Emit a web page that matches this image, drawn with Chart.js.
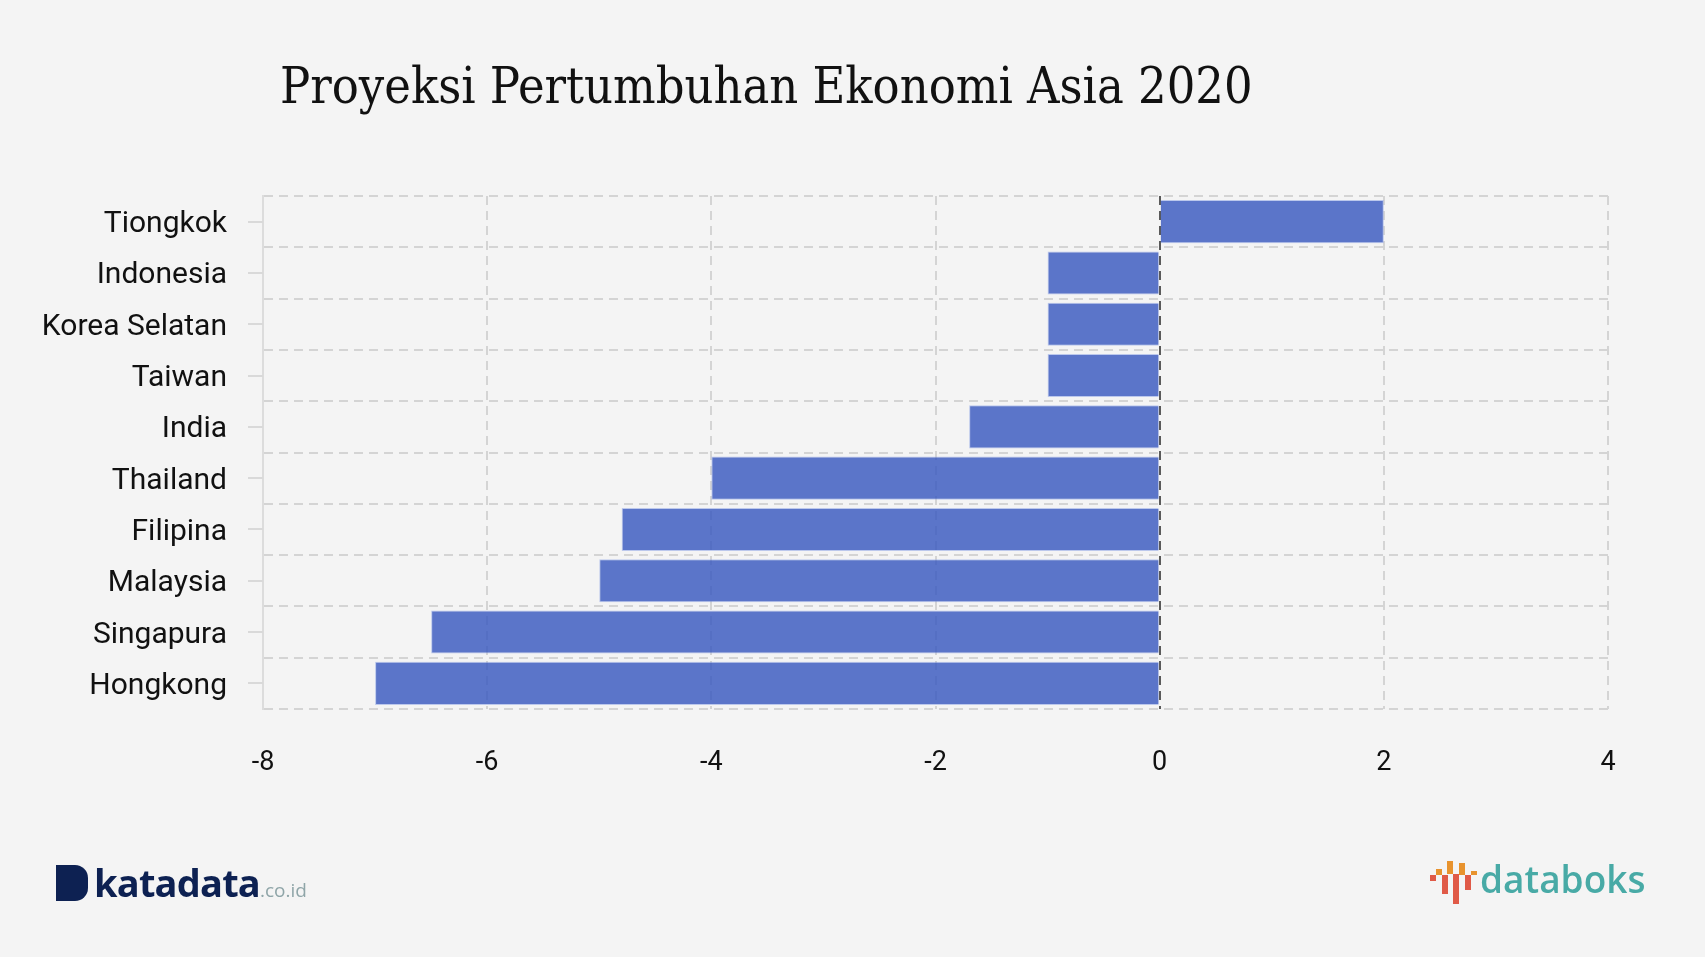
<!DOCTYPE html>
<html lang="id">
<head>
    <meta charset="UTF-8">
    <title>Proyeksi Pertumbuhan Ekonomi Asia 2020</title>
    <script src="https://cdn.jsdelivr.net/npm/chart.js"></script>
    <style>
        html, body {
            margin: 0;
            padding: 0;
            background: #f4f4f4;
        }
        #wrap {
            position: relative;
            width: 1705px;
            height: 957px;
            overflow: hidden;
        }
        #title {
            position: absolute;
            left: 280px;
            top: 56px;
            margin: 0;
            font-family: "DejaVu Serif Condensed", "DejaVu Serif", serif;
            font-weight: normal;
            font-size: 50px;
            line-height: 60px;
            color: #111;
            white-space: nowrap;
        }
        canvas {
            position: absolute;
            left: 0;
            top: 0;
        }
        .logo-kata {
            position: absolute;
            left: 56px;
            top: 864px;
            height: 38px;
            display: flex;
            align-items: flex-end;
            font-family: "Open Sans", "DejaVu Sans", sans-serif;
            font-weight: bold;
            color: #0d2152;
        }
        .logo-kata .d {
            display: inline-block;
            width: 32px;
            height: 36px;
            background: #0d2152;
            border-radius: 0 13px 13px 0;
            margin-right: 6px;
            margin-bottom: 1px;
        }
        .logo-kata .word { font-size: 38px; line-height: 40px; letter-spacing: -0.8px; }
        .logo-kata .dom { font-size: 19px; line-height: 24px; color: #8fa5a8; font-weight: normal; }
        .logo-boks {
            position: absolute;
            left: 1430px;
            top: 861px;
            height: 44px;
            font-family: "Open Sans", "DejaVu Sans", sans-serif;
            color: #48aaa6;
        }
        .logo-boks .bars {
            position: absolute;
            left: 0;
            top: 0;
            width: 47px;
            height: 44px;
        }
        .logo-boks .bars i {
            position: absolute;
            width: 6px;
        }
        .logo-boks .word {
            position: absolute;
            left: 50px;
            top: -4px;
            font-size: 37px;
            line-height: 44px;
            font-weight: 600;
            white-space: nowrap;
        }
    </style>
</head>
<body>
<div id="wrap">
    <h1 id="title">Proyeksi Pertumbuhan Ekonomi Asia 2020</h1>
    <canvas id="myChart" width="1705" height="957"></canvas>

    <div class="logo-kata"><span class="d"></span><span class="word">katadata</span><span class="dom">.co.id</span></div>
    <div class="logo-boks">
        <div class="bars">
            <i style="left:0;top:14px;height:6px;background:#e05a47"></i>
            <i style="left:6px;top:8px;height:6px;background:#e8932e"></i>
            <i style="left:12px;top:14px;height:19px;background:#e05a47"></i>
            <i style="left:17px;top:0;height:13px;background:#e8932e"></i>
            <i style="left:23px;top:13px;height:30px;background:#e05a47"></i>
            <i style="left:29px;top:2px;height:12px;background:#e8932e"></i>
            <i style="left:35px;top:14px;height:15px;background:#e05a47"></i>
            <i style="left:41px;top:10px;height:4px;background:#e8932e"></i>
        </div>
        <span class="word">databoks</span>
    </div>
</div>

<script>
    // data
    const countries = ['Tiongkok', 'Indonesia', 'Korea Selatan', 'Taiwan', 'India',
                       'Thailand', 'Filipina', 'Malaysia', 'Singapura', 'Hongkong'];
    const growth2020 = [2.0, -1.0, -1.0, -1.0, -1.7, -4.0, -4.8, -5.0, -6.5, -7.0];
    const xMin = -8;
    const xMax = 4;
    const xStep = 2;

    // tick kecil di kiri sumbu y, di tengah tiap kategori
    const yTickMarks = {
        id: 'yTickMarks',
        afterDraw(chart) {
            const y = chart.scales.y;
            const left = chart.chartArea.left;
            const ctx = chart.ctx;
            ctx.save();
            ctx.strokeStyle = '#d9d9d9';
            ctx.lineWidth = 2;
            y.ticks.forEach((t, i) => {
                const py = Math.round(y.getPixelForTick(i));
                ctx.beginPath();
                ctx.moveTo(left - 15, py);
                ctx.lineTo(left, py);
                ctx.stroke();
            });
            ctx.restore();
        }
    };

    function createChart() {
        const ctx = document.getElementById('myChart').getContext('2d');

        new Chart(ctx, {
            type: 'bar',
            data: {
                labels: countries,
                datasets: [{
                    label: 'Proyeksi 2020',
                    data: growth2020,
                    backgroundColor: 'rgba(53, 85, 190, 0.8)',
                    borderColor: 'rgba(150, 170, 230, 0.6)',
                    borderWidth: 1,
                    categoryPercentage: 0.84,
                    barPercentage: 1.0
                }]
            },
            plugins: [yTickMarks],
            options: {
                indexAxis: 'y',
                responsive: false,
                animation: false,
                layout: {
                    padding: { top: 196, right: 97, bottom: 0, left: 0 }
                },
                plugins: {
                    legend: { display: false },
                    tooltip: { enabled: false }
                },
                scales: {
                    x: {
                        min: xMin,
                        max: xMax,
                        afterFit: s => { s.height = 248; },
                        ticks: {
                            stepSize: xStep,
                            padding: 38,
                            color: '#111',
                            font: { family: 'Roboto', size: 27 }
                        },
                        grid: {
                            drawTicks: false,
                            lineWidth: 2,
                            color: c => (c.tick && c.tick.value === 0) ? '#5a5a5a' : '#d4d4d4'
                        },
                        border: { display: false, dash: [9, 6] }
                    },
                    y: {
                        afterFit: s => { s.width = 263; },
                        ticks: {
                            padding: 36,
                            labelOffset: 3,
                            color: '#111',
                            font: { family: 'Roboto', size: 30 }
                        },
                        grid: {
                            offset: true,
                            drawTicks: false,
                            lineWidth: 2,
                            color: '#d4d4d4'
                        },
                        border: { display: true, color: '#dcdcdc', width: 2, dash: [9, 6] }
                    }
                }
            }
        });
    }

    document.addEventListener('DOMContentLoaded', createChart);
</script>
</body>
</html>
